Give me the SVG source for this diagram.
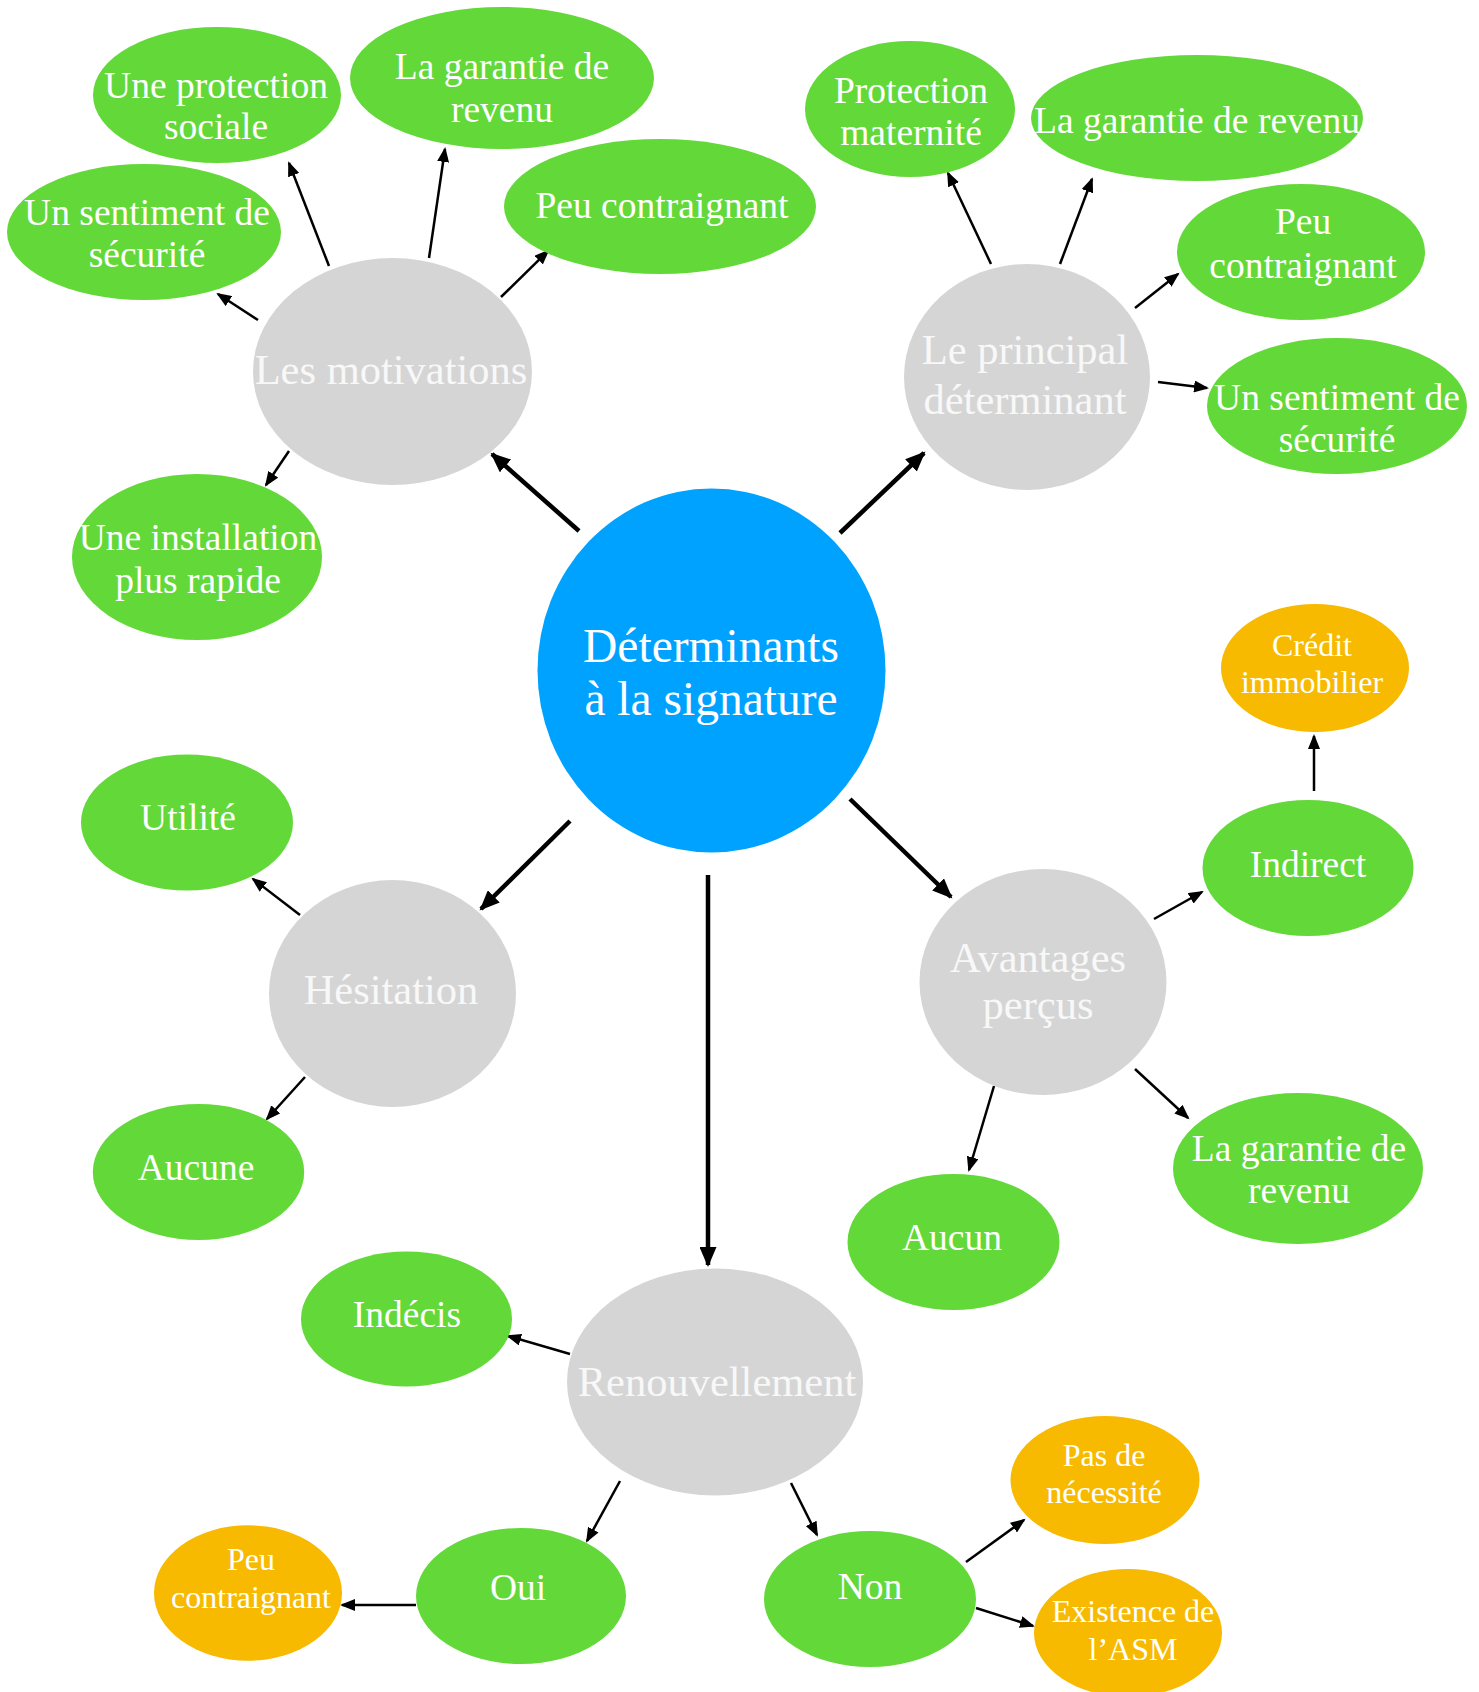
<svg xmlns="http://www.w3.org/2000/svg" width="1479" height="1692" viewBox="0 0 1479 1692">
<style>
text{font-family:"Liberation Serif","Times New Roman",serif;text-anchor:middle}
.c{fill:#00A2FF}.g{fill:#D5D5D5}.gr{fill:#63D839}.o{fill:#F7BA00}
.tc{fill:#FFFFFF;font-size:47.5px}
.tg{fill:#F8F8F8;font-size:42.5px}
.tgr{fill:#FFFFFF;font-size:37.5px}
.to{fill:#FFFFFF;font-size:32px}
.thick{stroke:#000;stroke-width:4.5;fill:none;marker-end:url(#ah2)}
.thin{stroke:#000;stroke-width:2.5;fill:none;marker-end:url(#ah1)}
</style>
<defs>
<marker id="ah1" markerUnits="userSpaceOnUse" markerWidth="16" markerHeight="12" refX="13" refY="6" orient="auto"><path d="M0,0 L15,6 L0,12 z" fill="#000"/></marker>
<marker id="ah2" markerUnits="userSpaceOnUse" markerWidth="21" markerHeight="17" refX="18" refY="8.5" orient="auto"><path d="M0,0 L20,8.5 L0,17 z" fill="#000"/></marker>
</defs>
<rect width="1479" height="1692" fill="#FFFFFF"/>

<g id="connectors">
<line class="thick" x1="579" y1="531" x2="492" y2="454"/>
<line class="thick" x1="840" y1="533" x2="924" y2="453"/>
<line class="thick" x1="570" y1="821" x2="481" y2="909"/>
<line class="thick" x1="708" y1="875" x2="708" y2="1265"/>
<line class="thick" x1="850" y1="799" x2="951" y2="897"/>
<line class="thin" x1="329" y1="266" x2="289" y2="163"/>
<line class="thin" x1="429" y1="258" x2="445" y2="149"/>
<line class="thin" x1="501" y1="297" x2="548" y2="251"/>
<line class="thin" x1="258" y1="320" x2="218" y2="294"/>
<line class="thin" x1="289" y1="451" x2="266" y2="485"/>
<line class="thin" x1="991" y1="264" x2="948" y2="173"/>
<line class="thin" x1="1060" y1="264" x2="1092" y2="179"/>
<line class="thin" x1="1135" y1="308" x2="1178" y2="274"/>
<line class="thin" x1="1158" y1="382" x2="1207" y2="388"/>
<line class="thin" x1="300" y1="915" x2="253" y2="879"/>
<line class="thin" x1="305" y1="1077" x2="267" y2="1119"/>
<line class="thin" x1="1154" y1="919" x2="1202" y2="892"/>
<line class="thin" x1="1314" y1="791" x2="1314" y2="736"/>
<line class="thin" x1="1135" y1="1069" x2="1188" y2="1118"/>
<line class="thin" x1="994" y1="1086" x2="969" y2="1170"/>
<line class="thin" x1="570" y1="1354" x2="508" y2="1336"/>
<line class="thin" x1="620" y1="1481" x2="587" y2="1541"/>
<line class="thin" x1="791" y1="1483" x2="817" y2="1535"/>
<line class="thin" x1="416" y1="1605" x2="342" y2="1605"/>
<line class="thin" x1="966" y1="1562" x2="1024" y2="1520"/>
<line class="thin" x1="976" y1="1608" x2="1033" y2="1626"/>
</g>

<g id="n-center"><ellipse class="c" cx="711.5" cy="670.5" rx="174" ry="182"/>
<text class="tc" x="711" y="662">Déterminants</text><text class="tc" x="711" y="715">à la signature</text></g>

<g id="n-motivations"><ellipse class="g" cx="392.5" cy="371.5" rx="139.5" ry="113.5"/>
<text class="tg" x="391" y="384">Les motivations</text></g>
<g id="n-principal"><ellipse class="g" cx="1027" cy="377" rx="123" ry="113"/>
<text class="tg" x="1025" y="364">Le principal</text><text class="tg" x="1025" y="414">déterminant</text></g>
<g id="n-hesitation"><ellipse class="g" cx="392.5" cy="993.5" rx="123.5" ry="113.5"/>
<text class="tg" x="391" y="1004">Hésitation</text></g>
<g id="n-avantages"><ellipse class="g" cx="1043" cy="982" rx="123.5" ry="113"/>
<text class="tg" x="1038" y="972">Avantages</text><text class="tg" x="1038" y="1019">perçus</text></g>
<g id="n-renouvellement"><ellipse class="g" cx="715" cy="1382" rx="148" ry="113.5"/>
<text class="tg" x="717" y="1396">Renouvellement</text></g>

<g id="n-m-protection"><ellipse class="gr" cx="217" cy="95" rx="124" ry="68"/>
<text class="tgr" x="216" y="98">Une protection</text><text class="tgr" x="216" y="139">sociale</text></g>
<g id="n-m-garantie"><ellipse class="gr" cx="502" cy="78" rx="152" ry="71"/>
<text class="tgr" x="502" y="79">La garantie de</text><text class="tgr" x="502" y="122">revenu</text></g>
<g id="n-m-sentiment"><ellipse class="gr" cx="144" cy="232" rx="137" ry="68"/>
<text class="tgr" x="147" y="225">Un sentiment de</text><text class="tgr" x="147" y="267">sécurité</text></g>
<g id="n-m-peu"><ellipse class="gr" cx="660" cy="206.5" rx="156" ry="67.5"/>
<text class="tgr" x="662" y="218">Peu contraignant</text></g>
<g id="n-m-installation"><ellipse class="gr" cx="197" cy="557" rx="125" ry="83"/>
<text class="tgr" x="198" y="550">Une installation</text><text class="tgr" x="198" y="593">plus rapide</text></g>

<g id="n-p-maternite"><ellipse class="gr" cx="910" cy="109" rx="105" ry="68"/>
<text class="tgr" x="911" y="103">Protection</text><text class="tgr" x="911" y="145">maternité</text></g>
<g id="n-p-garantie"><ellipse class="gr" cx="1197" cy="118" rx="166" ry="63"/>
<text class="tgr" x="1197" y="133">La garantie de revenu</text></g>
<g id="n-p-peu"><ellipse class="gr" cx="1301" cy="252" rx="124" ry="68"/>
<text class="tgr" x="1303" y="234">Peu</text><text class="tgr" x="1303" y="278">contraignant</text></g>
<g id="n-p-sentiment"><ellipse class="gr" cx="1337" cy="406" rx="130" ry="68"/>
<text class="tgr" x="1337" y="410">Un sentiment de</text><text class="tgr" x="1337" y="452">sécurité</text></g>

<g id="n-h-utilite"><ellipse class="gr" cx="187" cy="822.5" rx="106" ry="68"/>
<text class="tgr" x="188" y="830">Utilité</text></g>
<g id="n-h-aucune"><ellipse class="gr" cx="198.5" cy="1172" rx="105.7" ry="68"/>
<text class="tgr" x="196" y="1179.5">Aucune</text></g>

<g id="n-a-indirect"><ellipse class="gr" cx="1308" cy="868" rx="105.5" ry="68"/>
<text class="tgr" x="1308" y="877">Indirect</text></g>
<g id="n-a-credit"><ellipse class="o" cx="1315" cy="668" rx="94" ry="64"/>
<text class="to" x="1312" y="655.5">Crédit</text><text class="to" x="1312" y="693">immobilier</text></g>
<g id="n-a-garantie"><ellipse class="gr" cx="1298" cy="1168.5" rx="125" ry="75.5"/>
<text class="tgr" x="1299" y="1160.5">La garantie de</text><text class="tgr" x="1299" y="1203">revenu</text></g>
<g id="n-a-aucun"><ellipse class="gr" cx="953.5" cy="1242" rx="106" ry="68"/>
<text class="tgr" x="952" y="1250">Aucun</text></g>

<g id="n-r-indecis"><ellipse class="gr" cx="406.5" cy="1319" rx="105.5" ry="67.5"/>
<text class="tgr" x="407" y="1327">Indécis</text></g>
<g id="n-r-oui"><ellipse class="gr" cx="521" cy="1596" rx="105" ry="68"/>
<text class="tgr" x="518" y="1600">Oui</text></g>
<g id="n-r-oui-peu"><ellipse class="o" cx="248" cy="1593" rx="94" ry="67.7"/>
<text class="to" x="251" y="1570">Peu</text><text class="to" x="251" y="1608">contraignant</text></g>
<g id="n-r-non"><ellipse class="gr" cx="870" cy="1599" rx="106" ry="68"/>
<text class="tgr" x="870" y="1599">Non</text></g>
<g id="n-r-necessite"><ellipse class="o" cx="1105" cy="1480" rx="94.5" ry="64"/>
<text class="to" x="1104" y="1466">Pas de</text><text class="to" x="1104" y="1503">nécessité</text></g>
<g id="n-r-asm"><ellipse class="o" cx="1128" cy="1633" rx="94" ry="64"/>
<text class="to" x="1133" y="1622">Existence de</text><text class="to" x="1133" y="1660">l’ASM</text></g>
</svg>
